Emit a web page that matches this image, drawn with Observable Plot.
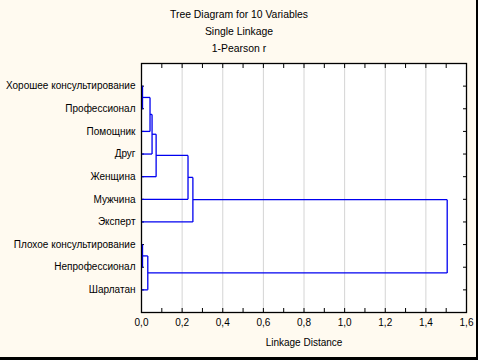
<!DOCTYPE html>
<html><head><meta charset="utf-8">
<script src="https://cdn.jsdelivr.net/npm/d3@7"></script>
<script src="https://cdn.jsdelivr.net/npm/@observablehq/plot@0.6"></script>
<style>
html,body{margin:0;padding:0;background:#fffaf0;}
#wrap{position:relative;width:478px;height:360px;overflow:hidden;font-family:"Liberation Sans",Arial,sans-serif;}
#title{width:478px;height:57px;box-sizing:border-box;padding-top:6px;text-align:center;font-size:10.4px;line-height:17px;color:#000;}
#edge{position:absolute;left:0;top:0;width:478px;height:360px;box-sizing:border-box;border-right:2px solid #000;border-bottom:3px solid #000;pointer-events:none;}
svg{display:block;}
</style></head><body>
<div id="wrap"><div id="title"></div><div id="chart"></div><div id="edge"></div></div>
<script>
const titleLines = ["Tree Diagram for 10 Variables", "Single Linkage", "1-Pearson r"];
const xLabel = "Linkage Distance";
const leaves = [
  "Хорошее консультирование", "Профессионал", "Помощник", "Друг", "Женщина",
  "Мужчина", "Эксперт", "Плохое консультирование", "Непрофессионал", "Шарлатан"
];
// merges: node ids 0-9 are leaves, 10+ are clusters in merge order
const mergeA = [0, 10, 11, 12, 13, 14, 7, 16, 15];
const mergeB = [1, 2, 3, 4, 5, 6, 8, 9, 17];
const mergeDist = [0.005, 0.042, 0.052, 0.072, 0.229, 0.253, 0.005, 0.031, 1.505];
const xTicks = [0, 0.2, 0.4, 0.6, 0.8, 1.0, 1.2, 1.4, 1.6];
const xMinorTicks = [0, 0.1, 0.2, 0.3, 0.4, 0.5, 0.6, 0.7, 0.8, 0.9, 1.0, 1.1, 1.2, 1.3, 1.4, 1.5, 1.6];

document.getElementById("title").innerHTML = titleLines.map(t => `<div>${t}</div>`).join("");

const leafPos = leaves.map((_, i) => i + 1);
const nodeY = leafPos.slice();
const nodeH = leaves.map(() => 0);
const segs = [];
mergeDist.forEach((d, k) => {
  const a = mergeA[k], b = mergeB[k];
  const ya = nodeY[a], yb = nodeY[b];
  segs.push({x1: nodeH[a], y1: ya, x2: d, y2: ya});
  segs.push({x1: nodeH[b], y1: yb, x2: d, y2: yb});
  segs.push({x1: d, y1: ya, x2: d, y2: yb});
  nodeY.push((ya + yb) / 2);
  nodeH.push(d);
});

const blank = () => "";
const chart = Plot.plot({
  width: 478,
  height: 303,
  marginTop: 6,
  marginLeft: 141,
  marginRight: 12,
  marginBottom: 48,
  style: {background: "transparent", fontFamily: "'Liberation Sans', Arial, sans-serif", fontSize: "10px", color: "#000"},
  x: {domain: [0, 1.6]},
  y: {domain: [0, 11], reverse: true},
  marks: [
    Plot.frame({fill: "white", stroke: null}),
    Plot.gridX(xTicks.slice(1, -1), {stroke: "#d4d4d4", strokeOpacity: 1}),
    Plot.axisY({anchor: "left", ticks: leafPos, tickSize: -3, tickFormat: blank, label: null}),
    Plot.axisY({anchor: "right", ticks: leafPos, tickSize: -4, tickFormat: blank, label: null}),
    Plot.axisX({anchor: "top", ticks: xMinorTicks, tickSize: -4, tickFormat: blank, label: null}),
    Plot.axisX({anchor: "bottom", ticks: xMinorTicks, tickSize: -4, tickFormat: blank, label: null}),
    Plot.link(segs, {x1: "x1", y1: "y1", x2: "x2", y2: "y2", stroke: "#0000f0", strokeWidth: 1.3}),
    Plot.frame({stroke: "#000", strokeWidth: 1.3}),
    Plot.axisY({anchor: "left", ticks: leafPos, tickSize: 0, tickPadding: 6, tickFormat: i => leaves[i - 1], label: null}),
    Plot.axisX({anchor: "bottom", ticks: xTicks, tickSize: 0, tickPadding: 6, tickFormat: d => d.toFixed(1).replace(".", ","), label: null}),
    Plot.text([xLabel], {frameAnchor: "bottom", dy: 33, text: d => d, fill: "#000"})
  ]
});
document.getElementById("chart").appendChild(chart);
</script>
</body></html>
